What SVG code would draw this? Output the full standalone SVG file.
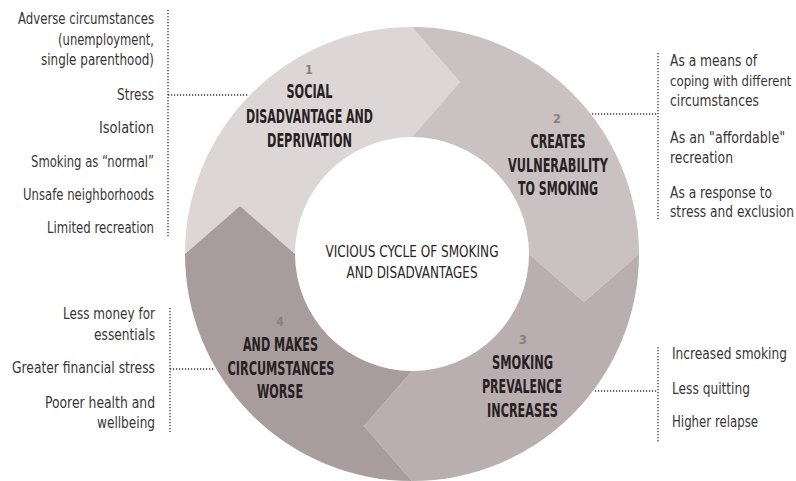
<svg xmlns="http://www.w3.org/2000/svg" width="796" height="481" viewBox="0 0 796 481">
  <style>
    .seg1 { fill: #dcd6d7; }
    .seg2 { fill: #c9c1c2; }
    .seg3 { fill: #b9afb0; }
    .seg4 { fill: #a99c9d; }
    .title { font-family: "Liberation Sans Narrow", "DejaVu Sans Condensed", "Roboto Condensed", sans-serif; font-stretch: condensed; font-weight: bold; font-size: 20px; fill: #262122; text-anchor: middle; }
    .num { font-family: "Liberation Sans Narrow", "DejaVu Sans Condensed", sans-serif; font-stretch: condensed; font-weight: bold; font-size: 12.5px; fill: #8a7e7f; text-anchor: middle; }
    .center { font-family: "Liberation Sans Narrow", "DejaVu Sans Condensed", sans-serif; font-stretch: condensed; font-size: 16px; fill: #2a2526; text-anchor: middle; }
    .item { font-family: "Liberation Sans Narrow", "DejaVu Sans Condensed", sans-serif; font-stretch: condensed; font-size: 15px; fill: #3a3536; }
    .right { text-anchor: end; }
    .dots { fill: none; stroke: #3a3536; stroke-width: 1.3; stroke-dasharray: 1.2 1.8; }
  </style>

  <!-- ring segments, each ending in a chevron that points clockwise -->
  <g id="step1">
    <path class="seg1" d="M185,254 A227,227 0 0 1 412,27 L460,82 L412,137 A117,117 0 0 0 295,254 L240,206 Z"/>
    <text class="num" x="309" y="74">1</text>
    <text class="title" x="309.5" y="98" textLength="46" lengthAdjust="spacingAndGlyphs">SOCIAL</text>
    <text class="title" x="309.5" y="122.5" textLength="127" lengthAdjust="spacingAndGlyphs">DISADVANTAGE AND</text>
    <text class="title" x="309.5" y="147" textLength="85" lengthAdjust="spacingAndGlyphs">DEPRIVATION</text>
  </g>
  <g id="step2">
    <path class="seg2" d="M412,27 A227,227 0 0 1 639,254 L584,302 L529,254 A117,117 0 0 0 412,137 L460,82 Z"/>
    <text class="num" x="557" y="123">2</text>
    <text class="title" x="558" y="148" textLength="55" lengthAdjust="spacingAndGlyphs">CREATES</text>
    <text class="title" x="558" y="171.5" textLength="100" lengthAdjust="spacingAndGlyphs">VULNERABILITY</text>
    <text class="title" x="558" y="195" textLength="80" lengthAdjust="spacingAndGlyphs">TO SMOKING</text>
  </g>
  <g id="step3">
    <path class="seg3" d="M639,254 A227,227 0 0 1 412,481 L364,426 L412,371 A117,117 0 0 0 529,254 L584,302 Z"/>
    <text class="num" x="523" y="344">3</text>
    <text class="title" x="522.5" y="369" textLength="61" lengthAdjust="spacingAndGlyphs">SMOKING</text>
    <text class="title" x="522" y="393" textLength="80" lengthAdjust="spacingAndGlyphs">PREVALENCE</text>
    <text class="title" x="522.5" y="417" textLength="71" lengthAdjust="spacingAndGlyphs">INCREASES</text>
  </g>
  <g id="step4">
    <path class="seg4" d="M412,481 A227,227 0 0 1 185,254 L240,206 L295,254 A117,117 0 0 0 412,371 L364,426 Z"/>
    <text class="num" x="280" y="326">4</text>
    <text class="title" x="280.5" y="351" textLength="75" lengthAdjust="spacingAndGlyphs">AND MAKES</text>
    <text class="title" x="281" y="375" textLength="107" lengthAdjust="spacingAndGlyphs">CIRCUMSTANCES</text>
    <text class="title" x="280" y="398" textLength="46" lengthAdjust="spacingAndGlyphs">WORSE</text>
  </g>

  <g id="cycle-title">
    <text class="center" x="412" y="257" textLength="173" lengthAdjust="spacingAndGlyphs">VICIOUS CYCLE OF SMOKING</text>
    <text class="center" x="412" y="278" textLength="131" lengthAdjust="spacingAndGlyphs">AND DISADVANTAGES</text>
  </g>

  <!-- dotted leader lines and brackets -->
  <g id="connectors">
    <path class="dots" d="M168,10 V237 M168,95 H249"/>
    <path class="dots" d="M658,53 V221 M592,114 H658"/>
    <path class="dots" d="M658,347 V443 M595,391 H658"/>
    <path class="dots" d="M170,308 V432 M170,369 H215"/>
  </g>

  <!-- side lists: narrowed horizontally to a condensed face -->
  <g id="causes" transform="translate(154 0) scale(0.92 1)">
    <text class="item right" x="0" y="24.5" textLength="147.8" lengthAdjust="spacingAndGlyphs">Adverse circumstances</text>
    <text class="item right" x="0" y="45" textLength="104.3" lengthAdjust="spacingAndGlyphs">(unemployment,</text>
    <text class="item right" x="0" y="65" textLength="122.8" lengthAdjust="spacingAndGlyphs">single parenthood)</text>
    <text class="item right" x="0" y="100" textLength="40.2" lengthAdjust="spacingAndGlyphs">Stress</text>
    <text class="item right" x="0" y="133" textLength="59.8" lengthAdjust="spacingAndGlyphs">Isolation</text>
    <text class="item right" x="0" y="167" textLength="133.7" lengthAdjust="spacingAndGlyphs">Smoking as “normal”</text>
    <text class="item right" x="0" y="200" textLength="142.4" lengthAdjust="spacingAndGlyphs">Unsafe neighborhoods</text>
    <text class="item right" x="0" y="233" textLength="116.3" lengthAdjust="spacingAndGlyphs">Limited recreation</text>
  </g>

  <g id="vulnerabilities" transform="translate(670 0) scale(0.92 1)">
    <text class="item" x="0" y="66" textLength="94.6" lengthAdjust="spacingAndGlyphs">As a means of</text>
    <text class="item" x="0" y="86" style="font-size:13.5px" textLength="132" lengthAdjust="spacingAndGlyphs">coping with different</text>
    <text class="item" x="0" y="106" textLength="96.7" lengthAdjust="spacingAndGlyphs">circumstances</text>
    <text class="item" x="0" y="143" textLength="125" lengthAdjust="spacingAndGlyphs">As an "affordable"</text>
    <text class="item" x="0" y="163" textLength="68.5" lengthAdjust="spacingAndGlyphs">recreation</text>
    <text class="item" x="0" y="198" textLength="110.9" lengthAdjust="spacingAndGlyphs">As a response to</text>
    <text class="item" x="0" y="217.5" textLength="134.8" lengthAdjust="spacingAndGlyphs">stress and exclusion</text>
  </g>

  <g id="prevalence" transform="translate(672 0) scale(0.92 1)">
    <text class="item" x="0" y="359" textLength="125" lengthAdjust="spacingAndGlyphs">Increased smoking</text>
    <text class="item" x="0" y="394" textLength="84.8" lengthAdjust="spacingAndGlyphs">Less quitting</text>
    <text class="item" x="0" y="427" textLength="93.5" lengthAdjust="spacingAndGlyphs">Higher relapse</text>
  </g>

  <g id="consequences" transform="translate(155 0) scale(0.92 1)">
    <text class="item right" x="0" y="319" textLength="100" lengthAdjust="spacingAndGlyphs">Less money for</text>
    <text class="item right" x="0" y="340" textLength="66.3" lengthAdjust="spacingAndGlyphs">essentials</text>
    <text class="item right" x="0" y="373" textLength="155.4" lengthAdjust="spacingAndGlyphs">Greater financial stress</text>
    <text class="item right" x="0" y="408" textLength="119.6" lengthAdjust="spacingAndGlyphs">Poorer health and</text>
    <text class="item right" x="0" y="428.5" textLength="63" lengthAdjust="spacingAndGlyphs">wellbeing</text>
  </g>
</svg>
